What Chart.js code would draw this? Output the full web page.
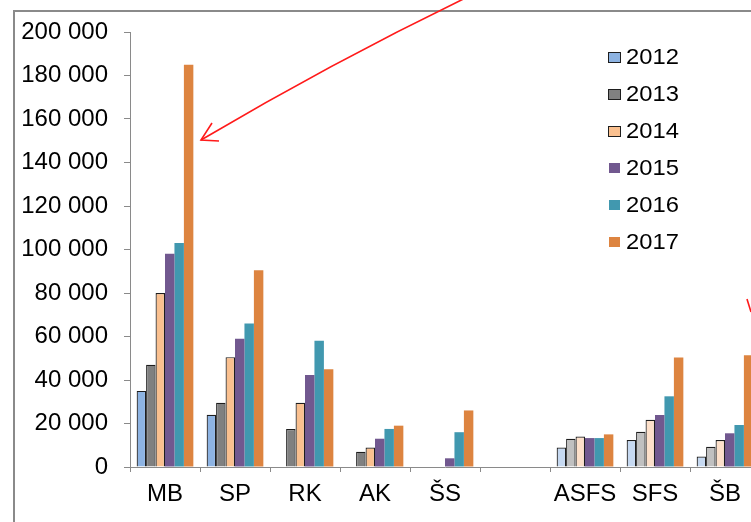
<!DOCTYPE html>
<html>
<head>
<meta charset="utf-8">
<script src="https://cdn.jsdelivr.net/npm/chart.js@4"></script>
<style>
  html, body { margin: 0; padding: 0; background: #fff; overflow: hidden; width: 751px; height: 522px; }
  #wrap { position: absolute; left: 0; top: 0; width: 770px; height: 522px; }
  #frame { position: absolute; left: 13px; top: 10px; width: 800px; height: 600px;
           border-left: 2px solid #8a8a8a; border-top: 2px solid #8a8a8a; }
  #legend { position: absolute; left: 608px; top: 43px; font-family: "Liberation Sans", Arial, sans-serif;
            font-size: 22px; color: #000; }
  .item { position: absolute; left: 0; height: 30px; width: 120px; }
  .box { position: absolute; left: 0; top: 9px; width: 11px; height: 10px; }
  .lbl { position: absolute; left: 18px; top: 1px; line-height: 26px; transform: scaleX(1.08); transform-origin: left center; }
</style>
</head>
<body>
<div id="frame"></div>
<div id="wrap"><canvas id="c"></canvas></div>
<div id="legend"></div>
<script>
const categories = ['MB', 'SP', 'RK', 'AK', 'ŠS', '', 'ASFS', 'SFS', 'ŠB'];
const years = ['2012', '2013', '2014', '2015', '2016', '2017'];
const v2012 = [35000, 24000, null, null, null, null, 9000, 12400, 4800];
const v2013 = [47000, 29500, 17500, 7000, null, null, 13000, 16200, 9300];
const v2014 = [80000, 50500, 29500, 9000, null, null, 14000, 21700, 12400];
const v2015 = [98000, 59000, 42300, 13000, 4000, null, 13300, 23900, 15500];
const v2016 = [103000, 66000, 58000, 17500, 16000, null, 13300, 32500, 19300];
const v2017 = [185000, 90500, 45000, 19000, 26000, null, 15000, 50400, 51400];
const seriesValues = [v2012, v2013, v2014, v2015, v2016, v2017];

const mainColors = ['#8db3e2', '#808080', '#fac08f', '#71588f', '#4198af', '#dd8440'];
const lightColors = ['#c6d9f1', '#c0c0c0', '#fde0ca', '#71588f', '#4198af', '#dd8440'];
const lightStart = 6; // ASFS, SFS, ŠB use lighter tints
const bordered = [true, true, true, false, false, false];

function fmt(n) { return String(n).replace(/\B(?=(\d{3})+(?!\d))/g, ' '); }

const datasets = years.map((y, i) => ({
  label: y,
  data: seriesValues[i],
  backgroundColor: categories.map((c, k) => k >= lightStart ? lightColors[i] : mainColors[i]),
  borderColor: bordered[i] ? '#1e1e1e' : 'rgba(0,0,0,0)',
  borderWidth: bordered[i] ? 1.2 : 0,
  barPercentage: 1.0,
  categoryPercentage: 0.81
}));

const arrows = {
  id: 'arrows',
  afterDraw(chart) {
    const ctx = chart.ctx;
    ctx.save();
    ctx.strokeStyle = '#ff1a1a';
    ctx.lineWidth = 1.6;
    ctx.beginPath();
    ctx.moveTo(478, -8);
    ctx.quadraticCurveTo(340, 58, 201, 140);
    ctx.stroke();
    ctx.beginPath();
    ctx.moveTo(212, 123);
    ctx.lineTo(201, 140);
    ctx.lineTo(219, 141);
    ctx.stroke();
    ctx.beginPath();
    ctx.moveTo(747, 299);
    ctx.lineTo(751, 312);
    ctx.stroke();
    ctx.restore();
  }
};

const font = { family: '"Liberation Sans", Arial, sans-serif', size: 24 };

new Chart(document.getElementById('c'), {
  type: 'bar',
  data: { labels: categories, datasets },
  options: {
    responsive: true,
    maintainAspectRatio: false,
    animation: false,
    devicePixelRatio: 1,
    layout: { padding: { top: 32, right: 10, left: 0, bottom: 0 } },
    plugins: { legend: { display: false }, tooltip: { enabled: false } },
    scales: {
      x: {
        grid: { display: true, drawOnChartArea: false, tickLength: 5, color: '#8a8a8a', offset: true },
        border: { display: true, color: '#8a8a8a', width: 1 },
        ticks: { color: '#000', font, padding: 8, maxRotation: 0, autoSkip: false },
        afterFit(s) { s.height = 55; }
      },
      y: {
        min: 0, max: 200000,
        grid: { display: true, drawOnChartArea: false, tickLength: 6, color: '#8a8a8a' },
        border: { display: true, color: '#8a8a8a', width: 1 },
        ticks: { stepSize: 20000, color: '#000', font, padding: 16, callback: v => fmt(v) },
        afterFit(s) { s.width = 130; }
      }
    }
  },
  plugins: [arrows]
});

const legend = document.getElementById('legend');
years.forEach((y, i) => {
  const it = document.createElement('div');
  it.className = 'item';
  it.style.top = (i * 36.9) + 'px';
  const b = document.createElement('div');
  b.className = 'box';
  b.style.background = mainColors[i];
  if (bordered[i]) { b.style.border = '1px solid #1e1e1e'; b.style.width = '11px'; b.style.height = '9px'; }
  else { b.style.left = '1px'; b.style.width = '11px'; b.style.height = '10px'; }
  const t = document.createElement('div');
  t.className = 'lbl';
  t.textContent = y;
  it.appendChild(b); it.appendChild(t);
  legend.appendChild(it);
});
</script>
</body>
</html>
